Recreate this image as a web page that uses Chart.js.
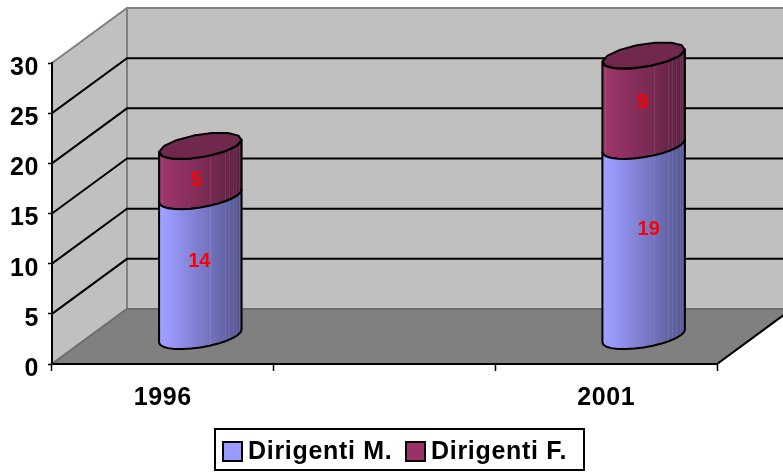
<!DOCTYPE html>
<html>
<head>
<meta charset="utf-8">
<style>
    html, body { margin: 0; padding: 0; background: #fff; overflow: hidden; }
    canvas { display: block; }
</style>
<script src="https://cdn.jsdelivr.net/npm/chart.js@4"></script>
</head>
<body>
<canvas id="chart" width="783" height="475"></canvas>
<script>
// the middle category is empty in the original sheet
const categories = ['1996', '', '2001'];
const dirigentiM = [14, null, 19];
const dirigentiF = [5, null, 9];
const seriesNames = ['Dirigenti M.', 'Dirigenti F.'];
const yTicks = [0, 5, 10, 15, 20, 25, 30];

const FONT = '"Liberation Sans", Arial, sans-serif';
// depth of the fake 3D box
const DEPTH_X = 75;
const DEPTH_Y = -55;

// shades for the cylinders: light side, dark side
const shades = [
    { light: '#9c9cff', dark: '#555590', lid: '#6a6aa8' },
    { light: '#9c3568', dark: '#5c2142', lid: '#70284c' }
];

// small nudges of the value labels, same as in the original
const labelShift = [
    [[-1, -5], null, [5, -11]],
    [[-4, 10], null, [-1, 2]]
];

// the pale vertical facet lines on the dark side of the cylinders
const facets = [0.03, 0.62, 0.8, 0.85, 0.9, 0.94, 0.97];

function arcPoint(c, w, t) {
    return {
        x: c.x + Math.cos(t) * w * 0.44 + Math.sin(t) * w * 0.244,
        y: c.y - Math.sin(t) * w * 0.16
    };
}

// draws from t1 to t2 in small straight pieces
function traceArc(ctx, c, w, t1, t2, move) {
    const steps = 14;
    for (let i = 0; i <= steps; i++) {
        const p = arcPoint(c, w, t1 + (t2 - t1) * i / steps);
        if (i === 0 && move) ctx.moveTo(p.x, p.y);
        else ctx.lineTo(p.x, p.y);
    }
}

function drawCylinder(ctx, el, shade, isTop) {
    const w = el.width;
    const top = { x: el.x + DEPTH_X / 2, y: el.y + DEPTH_Y / 2 };
    const bottom = { x: el.x + DEPTH_X / 2, y: el.base + DEPTH_Y / 2 };
    const t0 = Math.atan2(0.244, 0.44);
    const left = top.x - w / 2;

    function bodyPath() {
        ctx.beginPath();
        traceArc(ctx, bottom, w, t0 - Math.PI, t0, true);
        traceArc(ctx, top, w, t0, t0 - Math.PI, false);
        ctx.closePath();
    }

    const grad = ctx.createLinearGradient(left, 0, left + w, 0);
    grad.addColorStop(0, shade.light);
    grad.addColorStop(0.08, shade.light);
    grad.addColorStop(1, shade.dark);

    ctx.save();
    bodyPath();
    ctx.fillStyle = grad;
    ctx.fill();

    // facet lines stay inside the body
    ctx.save();
    ctx.clip();
    ctx.strokeStyle = 'rgba(255,255,255,0.09)';
    ctx.lineWidth = 1;
    facets.forEach(function(f) {
        const fx = Math.round(left + w * f) + 0.5;
        ctx.beginPath();
        ctx.moveTo(fx, top.y - 30);
        ctx.lineTo(fx, bottom.y + 30);
        ctx.stroke();
    });
    ctx.restore();

    bodyPath();
    ctx.strokeStyle = '#000';
    ctx.lineWidth = 2;
    ctx.lineJoin = 'round';
    ctx.stroke();

    if (isTop) {
        ctx.beginPath();
        traceArc(ctx, top, w, 0, Math.PI * 2, true);
        ctx.closePath();
        ctx.fillStyle = shade.lid;
        ctx.fill();
        ctx.stroke();
    }
    ctx.restore();
}

const box3d = {
    id: 'box3d',
    beforeDraw(chart) {
        const ctx = chart.ctx;
        const a = chart.chartArea;
        const y = chart.scales.y;
        ctx.letterSpacing = '0.6px';
        ctx.save();

        // side wall and back wall
        ctx.fillStyle = '#c0c0c0';
        ctx.strokeStyle = '#808080';
        ctx.lineWidth = 2;
        ctx.beginPath();
        ctx.moveTo(a.left, a.bottom);
        ctx.lineTo(a.left, a.top);
        ctx.lineTo(a.left + DEPTH_X, a.top + DEPTH_Y);
        ctx.lineTo(a.right + DEPTH_X, a.top + DEPTH_Y);
        ctx.lineTo(a.right + DEPTH_X, a.bottom + DEPTH_Y);
        ctx.lineTo(a.left + DEPTH_X, a.bottom + DEPTH_Y);
        ctx.closePath();
        ctx.fill();
        ctx.stroke();
        ctx.beginPath();
        ctx.moveTo(a.left + DEPTH_X, a.top + DEPTH_Y);
        ctx.lineTo(a.left + DEPTH_X, a.bottom + DEPTH_Y);
        ctx.stroke();

        // gridlines, they fold around the corner
        ctx.strokeStyle = '#000';
        ctx.lineWidth = 2;
        yTicks.forEach(function(v) {
            if (v === 0 || v === 30) return;
            const py = y.getPixelForValue(v);
            ctx.beginPath();
            ctx.moveTo(a.left, py);
            ctx.lineTo(a.left + DEPTH_X, py + DEPTH_Y);
            ctx.lineTo(a.right + DEPTH_X, py + DEPTH_Y);
            ctx.stroke();
        });

        // floor
        ctx.fillStyle = '#808080';
        ctx.strokeStyle = '#6e6e6e';
        ctx.beginPath();
        ctx.moveTo(a.left, a.bottom);
        ctx.lineTo(a.right, a.bottom);
        ctx.lineTo(a.right + DEPTH_X, a.bottom + DEPTH_Y);
        ctx.lineTo(a.left + DEPTH_X, a.bottom + DEPTH_Y);
        ctx.closePath();
        ctx.fill();
        ctx.stroke();
        ctx.strokeStyle = '#000';
        ctx.beginPath();
        ctx.moveTo(a.right, a.bottom);
        ctx.lineTo(a.right + DEPTH_X, a.bottom + DEPTH_Y);
        ctx.stroke();
        ctx.restore();
    },
    // cylinders instead of the flat bars
    beforeDatasetDraw(chart, args) {
        const meta = chart.getDatasetMeta(args.index);
        const values = chart.data.datasets[args.index].data;
        meta.data.forEach(function(el, j) {
            if (values[j] === null) return;
            drawCylinder(chart.ctx, el, shades[args.index], args.index === chart.data.datasets.length - 1);
        });
        return false;
    },
    afterDraw(chart) {
        const ctx = chart.ctx;
        ctx.save();
        ctx.letterSpacing = '0px';

        // value labels
        ctx.font = 'bold 20px ' + FONT;
        ctx.fillStyle = '#ff0000';
        ctx.textAlign = 'center';
        ctx.textBaseline = 'middle';
        chart.data.datasets.forEach(function(ds, i) {
            chart.getDatasetMeta(i).data.forEach(function(el, j) {
                if (ds.data[j] === null) return;
                const shift = labelShift[i][j];
                ctx.fillText(String(ds.data[j]),
                    el.x + DEPTH_X / 2 + shift[0],
                    (el.y + el.base) / 2 + DEPTH_Y / 2 + shift[1]);
            });
        });

        // legend box
        ctx.fillStyle = '#fff';
        ctx.strokeStyle = '#000';
        ctx.lineWidth = 2;
        ctx.fillRect(215, 429, 369, 41);
        ctx.strokeRect(215, 429, 369, 41);

        const swatchX = [223, 406];
        ctx.font = 'bold 25px ' + FONT;
        ctx.letterSpacing = '0.7px';
        ctx.textAlign = 'left';
        chart.data.datasets.forEach(function(ds, i) {
            ctx.fillStyle = ds.backgroundColor;
            ctx.fillRect(swatchX[i], 442, 19, 19);
            ctx.strokeRect(swatchX[i], 442, 19, 19);
            ctx.fillStyle = '#000';
            ctx.fillText(ds.label, swatchX[i] + 25, 452);
        });
        ctx.restore();
    }
};

new Chart(document.getElementById('chart').getContext('2d'), {
    type: 'bar',
    data: {
        labels: categories,
        datasets: [{
            label: seriesNames[0],
            data: dirigentiM,
            backgroundColor: '#9999ff'
        }, {
            label: seriesNames[1],
            data: dirigentiF,
            backgroundColor: '#993366'
        }]
    },
    options: {
        responsive: false,
        animation: false,
        layout: { padding: { top: 63, right: 66, left: 0, bottom: 0 } },
        datasets: {
            bar: { barPercentage: 0.37, categoryPercentage: 1 }
        },
        plugins: {
            legend: { display: false },
            tooltip: { enabled: false }
        },
        scales: {
            x: {
                stacked: true,
                afterFit: function(scale) { scale.height = 111; },
                border: { color: '#000', width: 2 },
                grid: { drawOnChartArea: false, tickColor: '#000', tickLength: 7, tickWidth: 1.5 },
                ticks: {
                    color: '#000',
                    padding: 12,
                    maxRotation: 0,
                    autoSkip: false,
                    font: { family: FONT, size: 25, weight: 'bold' }
                }
            },
            y: {
                stacked: true,
                min: 0,
                max: 30,
                afterFit: function(scale) { scale.width = 52; },
                border: { color: '#000', width: 2 },
                grid: { drawOnChartArea: false, tickColor: '#000', tickLength: 4, tickWidth: 1.5 },
                ticks: {
                    stepSize: 5,
                    color: '#000',
                    padding: 9,
                    labelOffset: 5,
                    font: { family: FONT, size: 25, weight: 'bold' }
                }
            }
        }
    },
    plugins: [box3d]
});
</script>
</body>
</html>
